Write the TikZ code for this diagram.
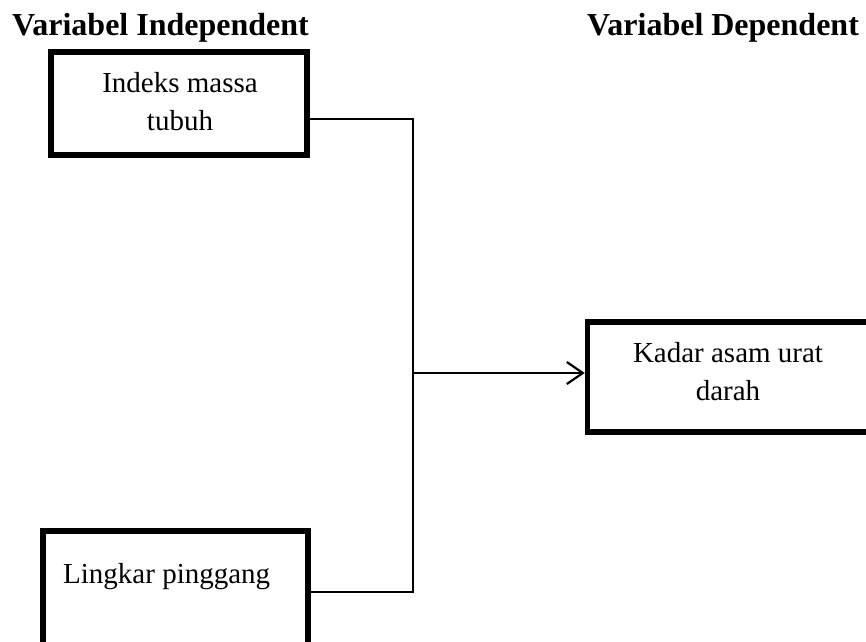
\documentclass[tikz,border=0pt]{standalone}
\usepackage{fontspec}
\setmainfont{Liberation Serif}
\usetikzlibrary{arrows.meta}
\tikzset{
  box/.style={draw=black, line width=5.5pt, fill=none, inner sep=0pt},
  title/.style={font=\fontsize{32}{36}\selectfont\bfseries, anchor=base west, inner sep=0pt},
  body/.style={font=\fontsize{29}{38}\selectfont, align=center, anchor=base, inner sep=0pt},
  link/.style={draw=black, line width=2pt},
}
\begin{document}
\begin{tikzpicture}[x=1pt, y=-1pt]
\useasboundingbox (0,0) rectangle (866,641);
\clip (0,0) rectangle (866,641);
\fill[white] (0,0) rectangle (866,641);
% titles
\node[title] (tind) at (12,35) {Variabel Independent};
\node[title] (tdep) at (587,35) {Variabel Dependent};
% boxes
\node[box, minimum width=256pt, minimum height=103pt] (imt) at (179,103.5) {};
\node[box, minimum width=265pt, minimum height=130pt] (lp) at (175.5,596) {};
\node[box, minimum width=310pt, minimum height=110pt] (kau) at (742.5,377) {};
% texts
\node[body] (timt) at (180,130) {Indeks massa\\tubuh};
\node[body, anchor=base west] (tlp) at (63,583) {Lingkar pinggang};
\node[body] (tkau) at (728,400) {Kadar asam urat\\darah};
% connectors
\coordinate (j1) at (413,119);
\coordinate (j2) at (413,592);
\coordinate (j3) at (413,373);
\draw[link, line cap=rect] (j1 -| imt.east) -- (j1) -- (j2) -- (j2 -| lp.east);
\draw[link, -{Straight Barb[length=16pt, width=22pt, line width=2.2pt]}] (j3) -- (j3 -| kau.west);
\end{tikzpicture}
\end{document}
